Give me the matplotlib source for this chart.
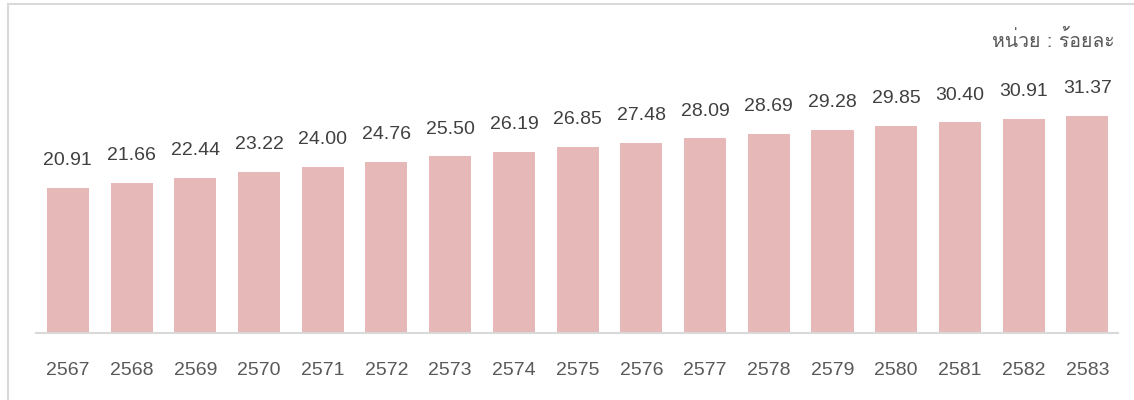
import matplotlib.pyplot as plt
from matplotlib.patches import Rectangle
from matplotlib import font_manager
from fontTools.ttLib import TTFont

# data
years = ['2567', '2568', '2569', '2570', '2571', '2572', '2573', '2574', '2575',
         '2576', '2577', '2578', '2579', '2580', '2581', '2582', '2583']
values = [20.91, 21.66, 22.44, 23.22, 24.00, 24.76, 25.50, 26.19, 26.85,
          27.48, 28.09, 28.69, 29.28, 29.85, 30.40, 30.91, 31.37]
unit_label = 'หน่วย : ร้อยละ'


# find an installed font that has Thai glyphs
def find_thai_font():
    for f in font_manager.fontManager.ttflist:
        try:
            font = TTFont(f.fname, fontNumber=0, lazy=True)
            if 0x0E2B in font.getBestCmap():
                return f.name
        except Exception:
            pass
    return 'DejaVu Sans'


thai_font = find_thai_font()
plt.rcParams['font.family'] = ['Liberation Sans', 'DejaVu Sans']

fig = plt.figure(figsize=(11.34, 4), dpi=100)
ax = fig.add_axes([36 / 1134, 67 / 400, (1118 - 36) / 1134, 277 / 400])

x = range(len(years))
ax.bar(x, values, width=0.66, color='#E6B8B7')
for i, v in zip(x, values):
    ax.text(i, v + 3.3, f'{v:.2f}', ha='center', va='baseline',
            fontsize=14, color='#404040')

ax.set_xlim(-0.5, 16.48)
ax.set_ylim(0, 40)
ax.set_xticks(list(x))
ax.set_xticklabels(years, fontsize=14, color='#595959')
ax.tick_params(axis='x', length=0, pad=21)
ax.set_yticks([])
for side in ['top', 'right', 'left']:
    ax.spines[side].set_visible(False)
ax.spines['bottom'].set_color('#D9D9D9')
ax.spines['bottom'].set_linewidth(1.5)

fig.text(1115 / 1134, 1 - 40 / 400, unit_label, ha='right', va='center',
         fontsize=14, color='#595959', family=[thai_font, 'DejaVu Sans'])

# chart border
fig.patches.append(Rectangle((8 / 1134, -0.1), 1.2, 1.1 - 4 / 400,
                             transform=fig.transFigure, fill=False,
                             edgecolor='#D9D9D9', linewidth=1.5))

plt.savefig('out.png')
